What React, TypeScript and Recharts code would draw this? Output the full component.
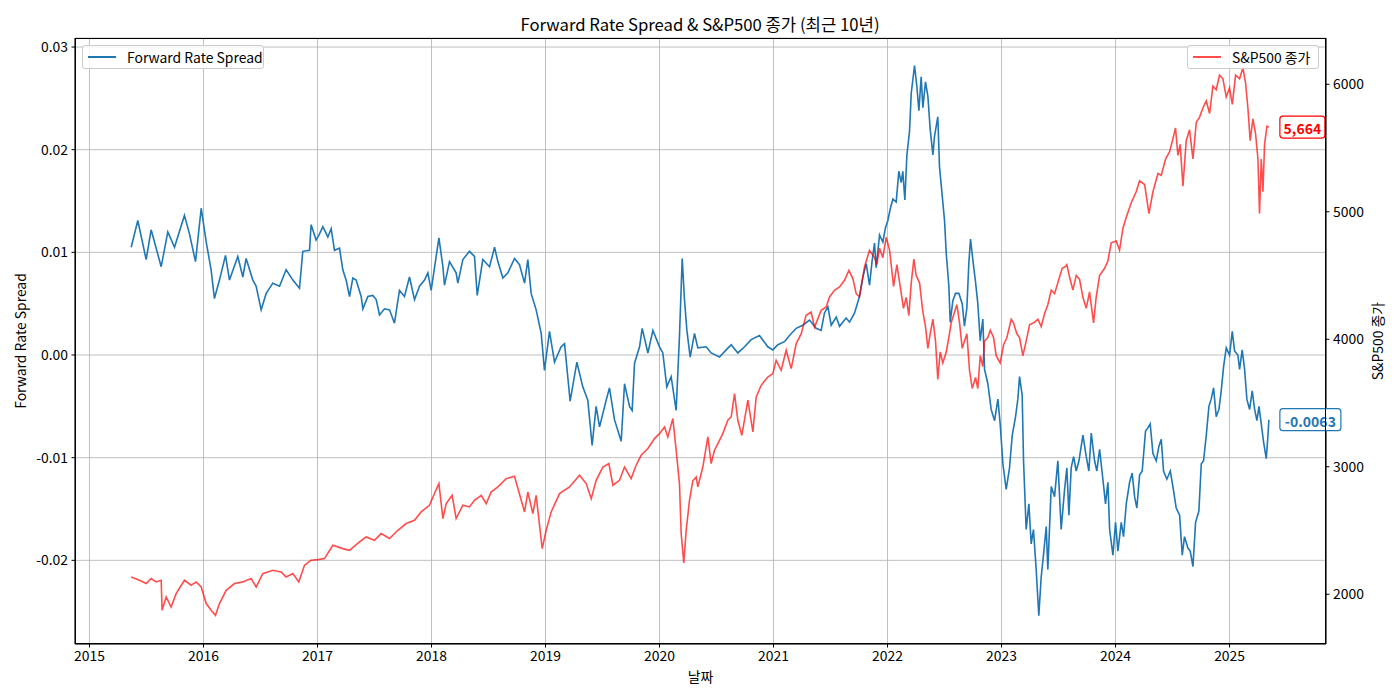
import React from 'react';
import {
  ComposedChart,
  Line,
  XAxis,
  YAxis,
  CartesianGrid,
  ReferenceDot
} from 'recharts';

// 날짜는 소수 연도 (2015.5 = 2015년 7월 초)
const spreadDates = [
  2015.366, 2015.424, 2015.497, 2015.541, 2015.629, 2015.687, 2015.746, 2015.833, 2015.877, 2015.93,
  2015.98, 2016.024, 2016.067, 2016.096, 2016.14, 2016.193, 2016.228, 2016.301, 2016.345, 2016.374,
  2016.433, 2016.462, 2016.506, 2016.55, 2016.608, 2016.667, 2016.725, 2016.784, 2016.842, 2016.871,
  2016.93, 2016.944, 2016.988, 2017.018, 2017.047, 2017.091, 2017.12, 2017.149, 2017.193, 2017.222,
  2017.251, 2017.281, 2017.31, 2017.339, 2017.383, 2017.398, 2017.442, 2017.485, 2017.515, 2017.544,
  2017.588, 2017.632, 2017.675, 2017.719, 2017.763, 2017.807, 2017.851, 2017.895, 2017.939, 2017.968,
  2017.997, 2018.041, 2018.065, 2018.1, 2018.114, 2018.158, 2018.216, 2018.231, 2018.275, 2018.333,
  2018.377, 2018.401, 2018.45, 2018.509, 2018.553, 2018.582, 2018.626, 2018.67, 2018.728, 2018.772,
  2018.816, 2018.845, 2018.874, 2018.918, 2018.962, 2018.991, 2019.035, 2019.079, 2019.137, 2019.167,
  2019.216, 2019.275, 2019.327, 2019.371, 2019.409, 2019.444, 2019.474, 2019.532, 2019.561, 2019.605,
  2019.664, 2019.693, 2019.737, 2019.76, 2019.781, 2019.825, 2019.848, 2019.898, 2019.942, 2020.0,
  2020.029, 2020.064, 2020.102, 2020.146, 2020.175, 2020.199, 2020.219, 2020.24, 2020.269, 2020.307,
  2020.336, 2020.409, 2020.453, 2020.526, 2020.585, 2020.629, 2020.687, 2020.746, 2020.804, 2020.877,
  2020.95, 2020.994, 2021.038, 2021.096, 2021.14, 2021.199, 2021.257, 2021.316, 2021.374, 2021.418,
  2021.447, 2021.477, 2021.506, 2021.55, 2021.579, 2021.637, 2021.667, 2021.711, 2021.754, 2021.784,
  2021.813, 2021.842, 2021.865, 2021.886, 2021.9, 2021.93, 2021.959, 2021.982, 2022.003, 2022.023,
  2022.047, 2022.076, 2022.099, 2022.12, 2022.134, 2022.152, 2022.17, 2022.193, 2022.208, 2022.237,
  2022.257, 2022.275, 2022.295, 2022.31, 2022.333, 2022.354, 2022.374, 2022.398, 2022.412, 2022.441,
  2022.456, 2022.479, 2022.5, 2022.515, 2022.538, 2022.55, 2022.573, 2022.596, 2022.626, 2022.655,
  2022.675, 2022.696, 2022.713, 2022.728, 2022.749, 2022.772, 2022.792, 2022.813, 2022.836, 2022.851,
  2022.88, 2022.909, 2022.939, 2022.968, 2022.988, 2023.012, 2023.041, 2023.07, 2023.094, 2023.123,
  2023.143, 2023.158, 2023.181, 2023.193, 2023.216, 2023.24, 2023.26, 2023.28, 2023.304, 2023.327,
  2023.348, 2023.368, 2023.392, 2023.406, 2023.436, 2023.465, 2023.494, 2023.523, 2023.553, 2023.573,
  2023.591, 2023.611, 2023.632, 2023.655, 2023.679, 2023.714, 2023.743, 2023.766, 2023.787, 2023.816,
  2023.836, 2023.86, 2023.889, 2023.912, 2023.933, 2023.948, 2023.977, 2024.0, 2024.021, 2024.05,
  2024.07, 2024.094, 2024.123, 2024.146, 2024.167, 2024.187, 2024.211, 2024.234, 2024.263, 2024.284,
  2024.304, 2024.328, 2024.357, 2024.38, 2024.401, 2024.421, 2024.45, 2024.48, 2024.503, 2024.532,
  2024.562, 2024.585, 2024.605, 2024.635, 2024.655, 2024.679, 2024.702, 2024.731, 2024.752, 2024.772,
  2024.796, 2024.819, 2024.839, 2024.86, 2024.883, 2024.907, 2024.927, 2024.948, 2024.971, 2025.0,
  2025.024, 2025.044, 2025.073, 2025.088, 2025.111, 2025.132, 2025.152, 2025.176, 2025.199, 2025.22,
  2025.24, 2025.258, 2025.278, 2025.299, 2025.322, 2025.337, 2025.345
];

const spreadValues = [
  0.0105, 0.0131, 0.0093, 0.0122, 0.0086, 0.012, 0.0105, 0.0136, 0.0118, 0.0091,
  0.0143, 0.011, 0.0083, 0.0055, 0.0073, 0.0097, 0.0073, 0.0096, 0.0076, 0.0094,
  0.0073, 0.0067, 0.0044, 0.006, 0.007, 0.0067, 0.0083, 0.0073, 0.0065, 0.0101,
  0.0102, 0.0127, 0.0112, 0.0118, 0.0125, 0.0115, 0.0123, 0.0102, 0.0104, 0.0083,
  0.0073, 0.0057, 0.0075, 0.0073, 0.0057, 0.0045, 0.0057, 0.0058, 0.0054, 0.0039,
  0.0045, 0.0044, 0.0031, 0.0063, 0.0057, 0.0076, 0.0054, 0.0067, 0.0073, 0.008,
  0.0063, 0.0096, 0.0114, 0.0086, 0.0068, 0.0091, 0.008, 0.007, 0.0093, 0.0101,
  0.0096, 0.0058, 0.0093, 0.0086, 0.0105, 0.0091, 0.0075, 0.008, 0.0094, 0.0088,
  0.007, 0.0093, 0.006, 0.0044, 0.0021, -0.0015, 0.0023, -0.0007, 0.0008, 0.0011,
  -0.0045, -0.0007, -0.0031, -0.0044, -0.0088, -0.005, -0.007, -0.0044, -0.0032, -0.0063,
  -0.0084, -0.0028, -0.005, -0.0054, -0.0008, 0.0008, 0.0026, 0.0002, 0.0024, 0.0008,
  0.0002, -0.0031, -0.0021, -0.0054, 0.0018, 0.0094, 0.0054, 0.0024, -0.0002, 0.0021,
  0.0007, 0.0008, 0.0002, -0.0002, 0.0005, 0.001, 0.0002, 0.0008, 0.0015, 0.0019,
  0.0008, 0.0005, 0.001, 0.0013, 0.0019, 0.0026, 0.0029, 0.0034, 0.0026, 0.0024,
  0.0041, 0.0047, 0.0029, 0.0037, 0.0028, 0.0036, 0.0032, 0.0041, 0.0057, 0.0076,
  0.0089, 0.0068, 0.0092, 0.0109, 0.0085, 0.0117, 0.011, 0.0124, 0.0131, 0.0142,
  0.0152, 0.0149, 0.0179, 0.0168, 0.0179, 0.0151, 0.0195, 0.0218, 0.0255, 0.0282,
  0.0262, 0.0238, 0.0271, 0.0241, 0.0266, 0.0252, 0.022, 0.0195, 0.0213, 0.0232,
  0.0183, 0.0156, 0.0131, 0.0099, 0.0067, 0.0032, 0.0053, 0.006, 0.006, 0.005,
  0.0028, 0.0046, 0.0089, 0.0113, 0.0092, 0.0071, 0.005, 0.0014, 0.0035, -0.0014,
  -0.0028, -0.0053, -0.0064, -0.0043, -0.0067, -0.0106, -0.0131, -0.011, -0.0078, -0.006,
  -0.0043, -0.0021, -0.0039, -0.0103, -0.017, -0.0145, -0.0184, -0.017, -0.0209, -0.0254,
  -0.0216, -0.0195, -0.0167, -0.0209, -0.0128, -0.0138, -0.0103, -0.017, -0.0131, -0.011,
  -0.0156, -0.011, -0.0099, -0.0113, -0.0103, -0.0078, -0.0099, -0.0113, -0.0076, -0.0103,
  -0.0113, -0.0092, -0.0121, -0.0145, -0.0124, -0.017, -0.0195, -0.0163, -0.0191, -0.0163,
  -0.0177, -0.0145, -0.0124, -0.0115, -0.0138, -0.0149, -0.0117, -0.0113, -0.0074, -0.0071,
  -0.0067, -0.0096, -0.0103, -0.0089, -0.0082, -0.0113, -0.0121, -0.0113, -0.0128, -0.0149,
  -0.0156, -0.0195, -0.0177, -0.0188, -0.0191, -0.0206, -0.0163, -0.0152, -0.0106, -0.0103,
  -0.0078, -0.005, -0.0043, -0.0032, -0.006, -0.0053, -0.0035, -0.0011, 0.0007, 0.0,
  0.0023, 0.0004, 0.0, -0.0014, 0.0005, -0.0014, -0.0043, -0.0053, -0.0035, -0.0053,
  -0.0064, -0.005, -0.0067, -0.0085, -0.0101, -0.0078, -0.0063
];

const spxDates = [
  2015.366, 2015.439, 2015.497, 2015.541, 2015.585, 2015.629, 2015.637, 2015.673, 2015.716, 2015.76,
  2015.833, 2015.892, 2015.936, 2015.98, 2016.024, 2016.067, 2016.105, 2016.14, 2016.199, 2016.272,
  2016.345, 2016.418, 2016.462, 2016.52, 2016.608, 2016.681, 2016.725, 2016.784, 2016.836, 2016.886,
  2016.944, 2017.003, 2017.061, 2017.135, 2017.222, 2017.281, 2017.368, 2017.427, 2017.5, 2017.558,
  2017.632, 2017.705, 2017.778, 2017.851, 2017.909, 2017.982, 2018.026, 2018.065, 2018.1, 2018.129,
  2018.181, 2018.216, 2018.275, 2018.333, 2018.377, 2018.436, 2018.48, 2018.523, 2018.582, 2018.655,
  2018.728, 2018.787, 2018.816, 2018.845, 2018.889, 2018.918, 2018.971, 2019.006, 2019.05, 2019.123,
  2019.211, 2019.298, 2019.357, 2019.401, 2019.444, 2019.503, 2019.556, 2019.591, 2019.649, 2019.693,
  2019.751, 2019.795, 2019.839, 2019.898, 2019.956, 2020.0, 2020.044, 2020.073, 2020.117, 2020.146,
  2020.175, 2020.19, 2020.213, 2020.234, 2020.263, 2020.292, 2020.322, 2020.336, 2020.38, 2020.424,
  2020.453, 2020.482, 2020.512, 2020.555, 2020.599, 2020.629, 2020.658, 2020.687, 2020.722, 2020.775,
  2020.819, 2020.848, 2020.892, 2020.95, 2020.994, 2021.023, 2021.067, 2021.111, 2021.155, 2021.199,
  2021.243, 2021.286, 2021.33, 2021.36, 2021.418, 2021.462, 2021.491, 2021.535, 2021.579, 2021.623,
  2021.661, 2021.696, 2021.725, 2021.754, 2021.798, 2021.842, 2021.886, 2021.906, 2021.93, 2021.959,
  2021.988, 2022.018, 2022.053, 2022.082, 2022.111, 2022.14, 2022.164, 2022.187, 2022.208, 2022.231,
  2022.251, 2022.281, 2022.31, 2022.333, 2022.354, 2022.374, 2022.398, 2022.421, 2022.441, 2022.462,
  2022.485, 2022.515, 2022.538, 2022.558, 2022.588, 2022.608, 2022.632, 2022.655, 2022.675, 2022.696,
  2022.719, 2022.743, 2022.772, 2022.792, 2022.813, 2022.836, 2022.851, 2022.88, 2022.901, 2022.93,
  2022.953, 2022.988, 2023.018, 2023.047, 2023.085, 2023.105, 2023.134, 2023.158, 2023.187, 2023.216,
  2023.246, 2023.281, 2023.319, 2023.348, 2023.377, 2023.406, 2023.436, 2023.465, 2023.494, 2023.532,
  2023.561, 2023.573, 2023.597, 2023.626, 2023.655, 2023.684, 2023.714, 2023.743, 2023.772, 2023.807,
  2023.83, 2023.86, 2023.904, 2023.933, 2023.962, 2024.006, 2024.035, 2024.065, 2024.094, 2024.138,
  2024.181, 2024.211, 2024.255, 2024.293, 2024.328, 2024.372, 2024.401, 2024.439, 2024.474, 2024.503,
  2024.526, 2024.547, 2024.567, 2024.591, 2024.62, 2024.649, 2024.679, 2024.708, 2024.737, 2024.766,
  2024.796, 2024.825, 2024.854, 2024.883, 2024.912, 2024.942, 2024.971, 2025.0, 2025.024, 2025.053,
  2025.088, 2025.117, 2025.14, 2025.161, 2025.181, 2025.205, 2025.228, 2025.249, 2025.263, 2025.278,
  2025.293, 2025.307, 2025.328, 2025.345
];

const spxValues = [
  2136, 2110, 2084, 2123, 2097, 2110, 1874, 1979, 1900, 2005,
  2110, 2071, 2097, 2057, 1927, 1874, 1835, 1927, 2031, 2084,
  2097, 2123, 2057, 2162, 2188, 2175, 2136, 2162, 2097, 2227,
  2267, 2272, 2280, 2384, 2358, 2345, 2410, 2450, 2423, 2476,
  2437, 2502, 2555, 2580, 2646, 2698, 2790, 2868, 2594, 2711,
  2776, 2594, 2698, 2685, 2737, 2776, 2711, 2802, 2842, 2907,
  2926, 2737, 2646, 2802, 2633, 2776, 2358, 2502, 2646, 2790,
  2842, 2933, 2868, 2750, 2894, 2998, 3025, 2855, 2894, 2998,
  2907, 3012, 3090, 3143, 3221, 3260, 3312, 3234, 3378, 3130,
  2868, 2476, 2246, 2502, 2737, 2890, 2920, 2842, 2998, 3234,
  3025, 3130, 3182, 3260, 3365, 3391, 3574, 3365, 3247, 3522,
  3273, 3548, 3639, 3704, 3731, 3835, 3757, 3914, 3770, 3966,
  4044, 4188, 4214, 4096, 4227, 4253, 4332, 4384, 4410, 4463,
  4541, 4476, 4358, 4332, 4567, 4698, 4640, 4586, 4714, 4640,
  4800, 4700, 4414, 4586, 4414, 4243, 4329, 4186, 4443, 4629,
  4500, 4443, 4214, 4100, 3929, 4043, 4157, 3986, 3686, 3900,
  3814, 3900, 4014, 4129, 4214, 4271, 4129, 3929, 3986, 4043,
  3757, 3614, 3700, 3614, 3871, 3786, 3986, 4014, 4071, 4014,
  3871, 3814, 3957, 4014, 4157, 4129, 4043, 4014, 3871, 3986,
  4114, 4129, 4157, 4100, 4200, 4271, 4386, 4357, 4443, 4557,
  4571, 4586, 4486, 4386, 4500, 4471, 4329, 4243, 4371, 4129,
  4329, 4500, 4557, 4614, 4757, 4771, 4700, 4871, 4957, 5071,
  5157, 5243, 5214, 4986, 5157, 5300, 5286, 5414, 5471, 5571,
  5657, 5443, 5529, 5200, 5557, 5643, 5414, 5700, 5743, 5814,
  5871, 5771, 5986, 5957, 6071, 6043, 5900, 5971, 5843, 6071,
  6043, 6129, 6014, 5814, 5557, 5729, 5614, 5414, 4986, 5414,
  5157, 5529, 5671, 5664
];

const xTicks = [2015, 2016, 2017, 2018, 2019, 2020, 2021, 2022, 2023, 2024, 2025];
const spreadTicks = [-0.02, -0.01, 0, 0.01, 0.02, 0.03];
const spxTicks = [2000, 3000, 4000, 5000, 6000];

const FONT = '"Noto Sans CJK KR", "Noto Sans", sans-serif';
const BLUE = '#1f77b4';
const RED = '#ff0000';

const rows: any[] = [
  ...spreadDates.map((t, i) => ({ t, spread: spreadValues[i] })),
  ...spxDates.map((t, i) => ({ t, spx: spxValues[i] }))
].sort((a, b) => a.t - b.t);

const lastSpread = spreadValues[spreadValues.length - 1];
const lastSpx = spxValues[spxValues.length - 1];
const lastT = spreadDates[spreadDates.length - 1];

// 마지막 값 옆에 붙는 박스 라벨
const EndTag = (props: any) => {
  const { cx, cy, text, color, width } = props;
  if (cx == null || cy == null) return null;
  const x0 = cx + 11;
  return (
    <g>
      <rect x={x0} y={cy - 11} width={width} height={22} rx={3} ry={3}
        fill="white" stroke={color} strokeWidth={1.2} />
      <text x={x0 + width / 2} y={cy + 1} textAnchor="middle" dominantBaseline="central"
        fill={color} fontWeight="bold" fontSize={14} fontFamily={FONT}>{text}</text>
    </g>
  );
};

const legendBox: React.CSSProperties = {
  position: 'absolute',
  top: 45,
  height: 24,
  boxSizing: 'border-box',
  background: 'rgba(255,255,255,0.8)',
  border: '1px solid #cccccc',
  borderRadius: 3,
  display: 'flex',
  alignItems: 'center',
  fontSize: 13.9,
  fontFamily: FONT,
  color: '#000'
};

export default function App() {
  const tickStyle = { fill: '#000', fontSize: 13.9, fontFamily: FONT };
  return (
    <div style={{ position: 'absolute', left: 0, top: 0, width: 1400, height: 700, background: '#fff', fontFamily: FONT }}>
      <ComposedChart width={1400} height={700} data={rows}
        margin={{ top: 38, right: 0, bottom: 0, left: 0 }}>
        <CartesianGrid yAxisId="left" stroke="#b0b0b0" strokeWidth={0.8} />
        <XAxis dataKey="t" type="number" domain={[2014.873, 2025.846]} ticks={xTicks}
          allowDataOverflow height={56} tick={tickStyle} tickSize={3.5} tickMargin={3.5}
          stroke="#000" tickFormatter={(v: number) => String(v)} />
        <YAxis yAxisId="left" orientation="left" width={75} domain={[-0.02815, 0.03088]}
          ticks={spreadTicks} allowDataOverflow tick={tickStyle} tickSize={3.5} tickMargin={3.5}
          stroke="#000" tickFormatter={(v: number) => v.toFixed(2)} />
        <YAxis yAxisId="right" orientation="right" width={74} domain={[1610, 6363]}
          ticks={spxTicks} allowDataOverflow tick={tickStyle} tickSize={3.5} tickMargin={3.5}
          stroke="#000" tickFormatter={(v: number) => String(v)} />
        <Line yAxisId="left" type="linear" dataKey="spread" stroke={BLUE} strokeWidth={1.6}
          dot={false} connectNulls isAnimationActive={false} />
        <Line yAxisId="right" type="linear" dataKey="spx" stroke={RED} strokeOpacity={0.7}
          strokeWidth={1.6} dot={false} connectNulls isAnimationActive={false} />
        <ReferenceDot yAxisId="right" x={lastT} y={lastSpx} r={1} ifOverflow="visible"
          shape={(p: any) => <EndTag {...p} text={lastSpx.toLocaleString('en-US')} color={RED} width={45} />} />
        <ReferenceDot yAxisId="left" x={lastT} y={lastSpread} r={1} ifOverflow="visible"
          shape={(p: any) => <EndTag {...p} text={lastSpread.toFixed(4)} color={BLUE} width={61} />} />
      </ComposedChart>

      {/* 축 테두리 */}
      <div style={{ position: 'absolute', left: 75, top: 38, width: 1251, height: 606,
        boxSizing: 'border-box', border: '1px solid #000', pointerEvents: 'none' }} />

      <div style={{ position: 'absolute', top: 13, left: 0, width: 1400, textAlign: 'center',
        fontSize: 16.7, lineHeight: '22px' }}>Forward Rate Spread &amp; S&amp;P500 종가 (최근 10년)</div>

      <div style={{ position: 'absolute', top: 666, left: 0, width: 1401, textAlign: 'center',
        fontSize: 13.9, lineHeight: '20px' }}>날짜</div>

      <div style={{ position: 'absolute', left: 20, top: 341, transform: 'translate(-50%, -50%) rotate(-90deg)',
        whiteSpace: 'nowrap', fontSize: 13.9, lineHeight: '20px' }}>Forward Rate Spread</div>

      <div style={{ position: 'absolute', left: 1377, top: 341, transform: 'translate(-50%, -50%) rotate(-90deg)',
        whiteSpace: 'nowrap', fontSize: 13.9, lineHeight: '20px' }}>S&amp;P500 종가</div>

      <div style={{ ...legendBox, left: 82, width: 182 }}>
        <div style={{ width: 28, height: 2, background: BLUE, marginLeft: 5, marginRight: 11 }} />
        <span>Forward Rate Spread</span>
      </div>
      <div style={{ ...legendBox, left: 1187, width: 132 }}>
        <div style={{ width: 28, height: 2, background: 'rgba(255,0,0,0.7)', marginLeft: 5, marginRight: 11 }} />
        <span>S&amp;P500 종가</span>
      </div>
    </div>
  );
}
